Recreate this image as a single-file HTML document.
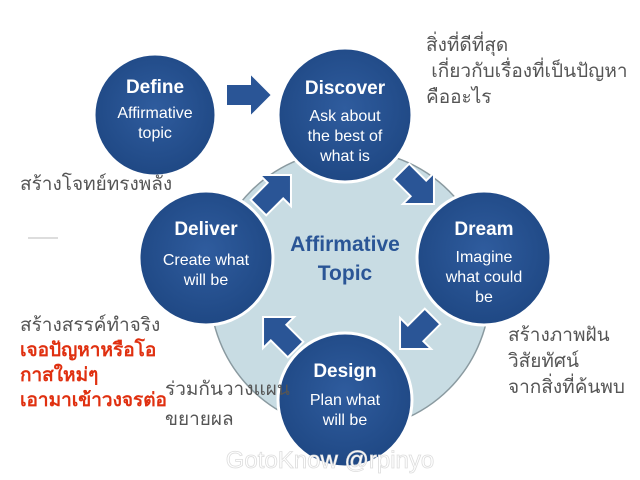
<html><head><style>
body{margin:0;width:640px;height:480px;background:#fff;overflow:hidden;position:relative;font-family:"Liberation Sans","Noto Sans CJK SC",sans-serif}
.t{position:absolute;font-family:"Liberation Sans","Noto Sans CJK SC",sans-serif;font-size:19px;color:#555;line-height:26px;white-space:nowrap}
</style></head><body>
<svg width="640" height="480" style="position:absolute;left:0;top:0">
<defs>
<radialGradient id="g" cx="50%" cy="45%" r="55%"><stop offset="0" stop-color="#2f5c9e"/><stop offset="1" stop-color="#1f4884"/></radialGradient>
<g id="ar"><polygon points="-22,-11 2,-11 2,-22 24,0 2,22 2,11 -22,11" fill="#2a5596" stroke="#fff" stroke-width="2"/></g>
</defs>
<circle cx="350" cy="290" r="140" fill="#c8dce3" stroke="#8a9aa0" stroke-width="1.5"/>
<g fill="url(#g)" stroke="#fff" stroke-width="3">
<circle cx="155" cy="115" r="61"/>
<circle cx="345" cy="115" r="67"/>
<circle cx="484" cy="258" r="67"/>
<circle cx="345" cy="400" r="67"/>
<circle cx="206" cy="258" r="67"/>
</g>
<use href="#ar" transform="translate(248,95)"/>
<use href="#ar" transform="translate(417,187) rotate(45)"/>
<use href="#ar" transform="translate(417,332) rotate(135)"/>
<use href="#ar" transform="translate(280,334) rotate(-135)"/>
<use href="#ar" transform="translate(274,192) rotate(-45)"/>
<g fill="#fff" text-anchor="middle" font-family="Liberation Sans,sans-serif">
<text x="155" y="93" font-size="19" font-weight="bold">Define</text>
<text x="155" y="118" font-size="16">Affirmative</text>
<text x="155" y="138" font-size="16">topic</text>
<text x="345" y="94" font-size="19" font-weight="bold">Discover</text>
<text x="345" y="121" font-size="16">Ask about</text>
<text x="345" y="141" font-size="16">the best of</text>
<text x="345" y="161" font-size="16">what is</text>
<text x="484" y="235" font-size="19" font-weight="bold">Dream</text>
<text x="484" y="262" font-size="16">Imagine</text>
<text x="484" y="282" font-size="16">what could</text>
<text x="484" y="302" font-size="16">be</text>
<text x="206" y="235" font-size="19" font-weight="bold">Deliver</text>
<text x="206" y="265" font-size="16">Create what</text>
<text x="206" y="285" font-size="16">will be</text>
<text x="345" y="377" font-size="19" font-weight="bold">Design</text>
<text x="345" y="405" font-size="16">Plan what</text>
<text x="345" y="425" font-size="16">will be</text>
</g>
<g fill="#2a5596" text-anchor="middle" font-family="Liberation Sans,sans-serif" font-weight="bold" font-size="21">
<text x="345" y="251">Affirmative</text>
<text x="345" y="280">Topic</text>
</g>
<line x1="28" y1="238" x2="58" y2="238" stroke="#bbb" stroke-width="1"/>
<text x="330" y="468" text-anchor="middle" font-size="24" fill="#fff" stroke="#ddd" stroke-width="0.8" font-family="Liberation Sans,sans-serif">GotoKnow @rpinyo</text>
</svg>
<div class="t" style="left:426px;top:33px">สิ่งที่ดีที่สุด<br>&nbsp;เกี่ยวกับเรื่องที่เป็นปัญหา<br>คืออะไร</div>
<div class="t" style="left:20px;top:172px">สร้างโจทย์ทรงพลัง</div>
<div class="t" style="left:20px;top:313px;line-height:25px">สร้างสรรค์ทำจริง<br><b style="color:#e03010">เจอปัญหาหรือโอ<br>กาสใหม่ๆ<br>เอามาเข้าวงจรต่อ</b></div>
<div class="t" style="left:508px;top:323px">สร้างภาพฝัน<br>วิสัยทัศน์<br>จากสิ่งที่ค้นพบ</div>
<div class="t" style="left:165px;top:375px;line-height:30px">ร่วมกันวางแผน<br>ขยายผล</div>
</body></html>
